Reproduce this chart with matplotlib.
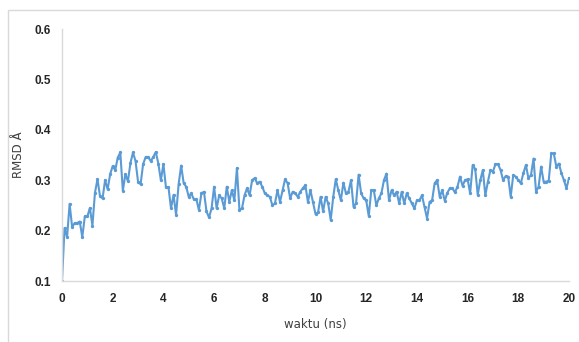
import matplotlib
matplotlib.use("Agg")
import matplotlib.pyplot as plt
import numpy as np
from matplotlib.patches import Rectangle

# data (RMSD every 0.1 ns, 0..20 ns)
rmsd = [
    0.100, 0.205, 0.187, 0.253, 0.207, 0.215, 0.215, 0.218, 0.187, 0.228,
    0.228, 0.245, 0.210, 0.275, 0.302, 0.268, 0.264, 0.300, 0.282, 0.312,
    0.328, 0.320, 0.345, 0.355, 0.279, 0.312, 0.298, 0.334, 0.355, 0.338,
    0.297, 0.292, 0.332, 0.346, 0.346, 0.338, 0.346, 0.356, 0.333, 0.300,
    0.332, 0.286, 0.286, 0.244, 0.271, 0.231, 0.292, 0.329, 0.294, 0.287,
    0.267, 0.274, 0.262, 0.262, 0.241, 0.274, 0.277, 0.238, 0.226, 0.244,
    0.287, 0.244, 0.270, 0.264, 0.244, 0.287, 0.257, 0.280, 0.260, 0.324,
    0.241, 0.244, 0.270, 0.284, 0.270, 0.300, 0.304, 0.294, 0.297, 0.287,
    0.274, 0.270, 0.267, 0.250, 0.254, 0.280, 0.257, 0.280, 0.302, 0.294,
    0.264, 0.277, 0.274, 0.267, 0.277, 0.284, 0.290, 0.257, 0.280, 0.257,
    0.233, 0.236, 0.267, 0.238, 0.267, 0.254, 0.221, 0.267, 0.302, 0.280,
    0.260, 0.295, 0.274, 0.277, 0.300, 0.247, 0.254, 0.311, 0.274, 0.264,
    0.260, 0.229, 0.280, 0.280, 0.250, 0.264, 0.274, 0.300, 0.313, 0.260,
    0.280, 0.270, 0.277, 0.254, 0.277, 0.254, 0.274, 0.264, 0.254, 0.244,
    0.260, 0.260, 0.270, 0.247, 0.224, 0.257, 0.260, 0.294, 0.300, 0.267,
    0.280, 0.259, 0.275, 0.284, 0.284, 0.276, 0.287, 0.307, 0.289, 0.300,
    0.302, 0.274, 0.330, 0.322, 0.271, 0.300, 0.320, 0.270, 0.297, 0.320,
    0.317, 0.332, 0.332, 0.320, 0.300, 0.308, 0.307, 0.267, 0.310, 0.307,
    0.300, 0.294, 0.314, 0.330, 0.304, 0.310, 0.343, 0.277, 0.287, 0.327,
    0.297, 0.297, 0.299, 0.353, 0.353, 0.327, 0.333, 0.314, 0.300, 0.284,
    0.304,
]
time_ns = np.arange(len(rmsd)) * 0.1

x_ticks = [0, 2, 4, 6, 8, 10, 12, 14, 16, 18, 20]
y_ticks = [0.1, 0.2, 0.3, 0.4, 0.5, 0.6]

fig = plt.figure(figsize=(5.79, 3.42), dpi=100)
# chart area border like Excel (right/bottom edges run off the image)
fig.patches.append(Rectangle((8 / 579, -10 / 342), 580 / 579, 342 / 342,
                             transform=fig.transFigure, fill=False,
                             edgecolor='#d9d9d9', linewidth=1))

ax = fig.add_axes([62 / 579, 61 / 342, 507 / 579, 252 / 342])
ax.plot(time_ns, rmsd, color='#5b9bd5', linewidth=1.5,
        marker='o', markersize=2.4, markeredgewidth=0)

ax.set_xlim(0, 20)
ax.set_ylim(0.1, 0.6)
ax.set_xticks(x_ticks)
ax.set_xticklabels([str(v) for v in x_ticks])
ax.set_yticks(y_ticks)
ax.set_yticklabels([f'{v:.1f}' for v in y_ticks])

for lab in ax.get_xticklabels() + ax.get_yticklabels():
    lab.set_fontfamily('Liberation Sans')
    lab.set_fontweight('bold')
    lab.set_fontsize(8.5)
    lab.set_color('#262626')

ax.tick_params(axis='both', length=0)
ax.tick_params(axis='y', pad=8)
ax.tick_params(axis='x', pad=9)

for side in ['top', 'right']:
    ax.spines[side].set_visible(False)
for side in ['left', 'bottom']:
    ax.spines[side].set_color('#d9d9d9')
    ax.spines[side].set_linewidth(1)

ax.set_xlabel('waktu (ns)', fontsize=8.5, color='#404040', labelpad=9)
ax.set_ylabel('RMSD Å', fontsize=8.5, color='#404040', labelpad=7)

plt.savefig('out.png', dpi=100)
